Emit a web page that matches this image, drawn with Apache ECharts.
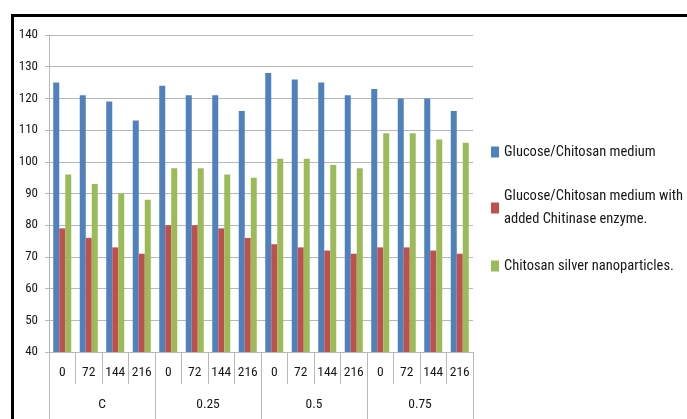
<!DOCTYPE html>
<html>
<head>
<meta charset="utf-8">
<style>
  html, body { margin: 0; padding: 0; background: #fff; }
  #chart { width: 687px; height: 419px; }
</style>
<script src="https://cdn.jsdelivr.net/npm/echarts@6/dist/echarts.min.js"></script>
</head>
<body>
<div id="chart"></div>
<script>
// Time points (h) within each concentration group
const timeLabels = ['0', '72', '144', '216', '0', '72', '144', '216', '0', '72', '144', '216', '0', '72', '144', '216'];
// Concentration groups, each spanning four time points
const groupLabels = ['C', '0.25', '0.5', '0.75'];

const seriesNames = [
  'Glucose/Chitosan medium',
  'Glucose/Chitosan medium with added Chitinase enzyme.',
  'Chitosan silver nanoparticles.'
];

const glucoseChitosan = [125, 121, 119, 113, 124, 121, 121, 116, 128, 126, 125, 121, 123, 120, 120, 116];
const withChitinase = [79, 76, 73, 71, 80, 80, 79, 76, 74, 73, 72, 71, 73, 73, 72, 71];
const silverNano = [96, 93, 90, 88, 98, 98, 96, 95, 101, 101, 99, 98, 109, 109, 107, 106];

const yTicks = { min: 40, max: 140, interval: 10 };

const FONT = "'Roboto Condensed', 'DejaVu Sans Condensed', sans-serif";
const GRID_GRAY = '#b8b8b8';
const TEXT = '#161616';
const colors = ['#4F81BD', '#C0504D', '#9BBB59'];

const chart = echarts.init(document.getElementById('chart'), null, { renderer: 'canvas' });

function legendFor(idx, top, extraText) {
  return {
    show: true,
    orient: 'vertical',
    left: 491,
    top: top,
    padding: 0,
    itemWidth: 8,
    itemHeight: 11,
    icon: 'rect',
    selectedMode: false,
    textStyle: Object.assign({ fontFamily: FONT, fontSize: 14.5, color: TEXT, lineHeight: 18 }, extraText || {}),
    data: [seriesNames[idx]]
  };
}

const redLegend = legendFor(1, 173.5, { lineHeight: 23, padding: [23, 0, 0, 0] });
redLegend.formatter = function () { return 'Glucose/Chitosan medium with\nadded Chitinase enzyme.'; };

const option = {
  animation: false,
  backgroundColor: '#ffffff',
  color: colors,
  grid: { left: 49, right: 214, top: 35, bottom: 67, containLabel: false },
  legend: [
    legendFor(0, 143),
    redLegend,
    legendFor(2, 257)
  ],
  xAxis: [
    {
      type: 'category',
      data: timeLabels,
      position: 'bottom',
      axisLine: { show: true, lineStyle: { color: GRID_GRAY, width: 1 } },
      axisTick: { show: true, length: 32, interval: 0, lineStyle: { color: GRID_GRAY } },
      axisLabel: { interval: 0, margin: 14, fontFamily: FONT, fontSize: 13.5, color: TEXT },
      splitLine: { show: false }
    },
    {
      type: 'category',
      data: groupLabels,
      position: 'bottom',
      axisLine: { show: false },
      axisTick: { show: true, length: 67, interval: 0, lineStyle: { color: GRID_GRAY } },
      axisLabel: { interval: 0, margin: 46, fontFamily: FONT, fontSize: 13.5, color: TEXT },
      splitLine: { show: false }
    }
  ],
  yAxis: {
    type: 'value',
    min: yTicks.min,
    max: yTicks.max,
    interval: yTicks.interval,
    axisLine: { show: true, lineStyle: { color: GRID_GRAY } },
    axisTick: { show: true, length: 4, lineStyle: { color: GRID_GRAY } },
    axisLabel: { margin: 11, fontFamily: FONT, fontSize: 13, color: TEXT },
    splitLine: { show: true, lineStyle: { color: GRID_GRAY, width: 1 } }
  },
  series: [
    { name: seriesNames[0], type: 'bar', xAxisIndex: 0, data: glucoseChitosan, barWidth: 6, barGap: '0%' },
    { name: seriesNames[1], type: 'bar', xAxisIndex: 0, data: withChitinase, barWidth: 6, barGap: '0%' },
    { name: seriesNames[2], type: 'bar', xAxisIndex: 0, data: silverNano, barWidth: 6, barGap: '0%' }
  ],
  graphic: [
    // heavy black frame along the top and left edges
    { type: 'rect', left: 11, top: 14, shape: { width: 676, height: 3 }, style: { fill: '#000' }, silent: true },
    { type: 'rect', left: 11, top: 14, shape: { width: 3, height: 405 }, style: { fill: '#000' }, silent: true }
  ]
};

chart.setOption(option);
</script>
</body>
</html>
